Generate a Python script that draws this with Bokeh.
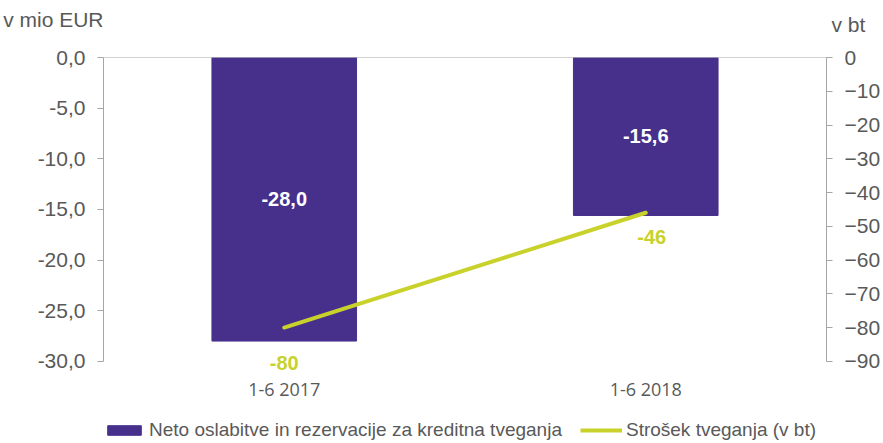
from bokeh.plotting import figure
from bokeh.layouts import column
from bokeh.models import (ColumnDataSource, Range1d, LinearAxis, FactorRange, Span,
                          LabelSet, Legend, LegendItem, FixedTicker,
                          CustomJSTickFormatter)
from bokeh.core.properties import value
from bokeh.embed import file_html
from bokeh.resources import INLINE

# ---------------- data ----------------
categories = ["1-6 2017", "1-6 2018"]
impairments = [-28.0, -15.6]        # v mio EUR
cost_of_risk = [-80, -46]           # v bt
left_ticks = [0, -5, -10, -15, -20, -25, -30]
right_ticks = [0, -10, -20, -30, -40, -50, -60, -70, -80, -90]
left_title = "v mio EUR"
right_title = "v bt"
bar_name = "Neto oslabitve in rezervacije za kreditna tveganja"
line_name = "Strošek tveganja (v bt)"

# ---------------- styles ----------------
BAR = "#46308C"
LINE = "#C8D22B"
AXIS = "#A6A6A6"
TXT = "#595959"
FONT = "Liberation Sans"
line_label_dx = [0, 6]
line_label_dy = [-35, -24]

W = 883
H_TOP, H_MAIN, H_LEG = 40, 365, 38

def bare_fig(h, **kw):
    f = figure(width=W, height=h, output_backend="svg", toolbar_location=None,
               x_axis_type=None, y_axis_type=None,
               min_border=0, min_border_left=0, min_border_right=0,
               min_border_top=0, min_border_bottom=0, **kw)
    f.xgrid.visible = False
    f.ygrid.visible = False
    f.outline_line_color = None
    return f

def title_axis(ax, standoff):
    ax.axis_line_color = None
    ax.major_tick_line_color = None
    ax.minor_tick_line_color = None
    ax.major_tick_out = 0
    ax.major_tick_in = 0
    ax.major_label_standoff = standoff
    ax.major_label_text_font = FONT
    ax.major_label_text_font_size = "21px"
    ax.major_label_text_color = TXT

# ---------------- axis titles strip ----------------
pt = bare_fig(H_TOP, x_range=Range1d(0, 1), y_range=Range1d(0, H_TOP))
pt.extra_y_ranges = {"r": Range1d(0, H_TOP)}
lt = LinearAxis(ticker=FixedTicker(ticks=[21]), major_label_overrides={21: left_title})
title_axis(lt, 0)
pt.add_layout(lt, "left")
rt = LinearAxis(y_range_name="r", ticker=FixedTicker(ticks=[16]),
                major_label_overrides={16: right_title})
title_axis(rt, 5)
pt.add_layout(rt, "right")

# ---------------- main chart ----------------
p = figure(x_range=FactorRange(*categories), y_range=Range1d(-31.5, 0),
           width=W, height=H_MAIN, output_backend="svg", toolbar_location=None,
           min_border_left=102, min_border_right=52, min_border_top=17,
           min_border_bottom=29)
p.extra_y_ranges = {"bt": Range1d(-94.5, 0)}
p.xgrid.visible = False
p.ygrid.visible = False
p.outline_line_color = None

def style_axis(ax):
    ax.axis_line_color = AXIS
    ax.major_tick_line_color = AXIS
    ax.major_tick_out = 6
    ax.major_tick_in = 0
    ax.minor_tick_line_color = None
    ax.major_label_standoff = 12
    ax.major_label_text_font = FONT
    ax.major_label_text_font_size = "21px"
    ax.major_label_text_color = TXT

ya = p.yaxis[0]
ya.ticker = FixedTicker(ticks=left_ticks)
ya.formatter = CustomJSTickFormatter(code="return tick.toFixed(1).replace('.', ',');")
ya.bounds = (-30, 0)
style_axis(ya)

ra = LinearAxis(y_range_name="bt", ticker=FixedTicker(ticks=right_ticks), bounds=(-90, 0))
style_axis(ra)
p.add_layout(ra, "right")

xa = p.xaxis[0]
xa.axis_line_color = None
xa.major_tick_line_color = None
xa.major_tick_out = 0
xa.major_label_standoff = 0
xa.major_label_text_font = "Open Sans"
xa.major_label_text_font_size = "18px"
xa.major_label_text_color = TXT

p.add_layout(Span(location=0, dimension="width", line_color=AXIS, line_width=1))

src = ColumnDataSource(data=dict(
    cat=categories,
    imp=impairments,
    mid=[v / 2 for v in impairments],
    imp_txt=[f"{v:.1f}".replace(".", ",") for v in impairments],
    cor=cost_of_risk,
    cor_txt=[str(v) for v in cost_of_risk],
    dx=line_label_dx,
    dy=line_label_dy,
))

p.vbar(x="cat", top=0, bottom="imp", width=0.4, source=src,
       fill_color=BAR, line_color=BAR)
p.line(x="cat", y="cor", y_range_name="bt", source=src,
       line_color=LINE, line_width=4, line_cap="round")

p.add_layout(LabelSet(x="cat", y="mid", text="imp_txt", source=src,
                      text_color="white", text_font=value(FONT), text_font_style="bold",
                      text_font_size="20px", text_align="center",
                      text_baseline="middle"))
p.add_layout(LabelSet(x="cat", y="cor", text="cor_txt", source=src, y_range_name="bt",
                      x_offset="dx", y_offset="dy",
                      text_color=LINE, text_font=value(FONT), text_font_style="bold",
                      text_font_size="20px", text_align="center",
                      text_baseline="middle"))

# ---------------- legend strip ----------------
pl = bare_fig(H_LEG, x_range=FactorRange(*categories), y_range=Range1d(-31.5, 0))
pl.extra_y_ranges = {"bt": Range1d(-94.5, 0)}
lb = pl.vbar(x="cat", top=0, bottom="imp", width=0.4, source=src,
             fill_color=BAR, line_color=BAR, visible=False)
ll = pl.line(x="cat", y="cor", y_range_name="bt", source=src,
             line_color=LINE, line_width=4, visible=False)
legend = Legend(items=[
    LegendItem(label=bar_name, renderers=[lb]),
    LegendItem(label=line_name, renderers=[ll]),
], orientation="horizontal", location=(0, 2))
legend.border_line_color = None
legend.background_fill_alpha = 0
legend.inactive_fill_alpha = 0
legend.padding = 0
legend.margin = 0
legend.glyph_width = 42
legend.glyph_height = 12
legend.label_standoff = 4
legend.spacing = 18
legend.label_text_font = FONT
legend.label_text_font_size = "19px"
legend.label_text_color = TXT
pl.add_layout(legend, "center")

layout = column(pt, p, pl, spacing=0)
open("out.html", "w").write(file_html(layout, INLINE))
